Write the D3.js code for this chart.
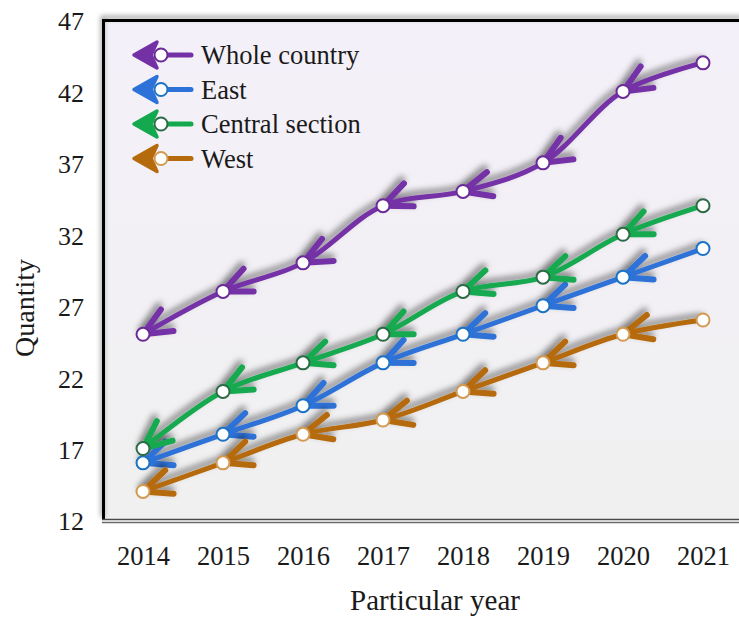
<!DOCTYPE html>
<html>
<head>
<meta charset="utf-8">
<script src="https://cdn.jsdelivr.net/npm/d3@7/dist/d3.min.js"></script>
<style>
  html, body { margin: 0; padding: 0; background: #ffffff; }
  svg { display: block; }
  text { font-family: "Liberation Serif", "Times New Roman", serif; fill: #1a1a1a; }
</style>
</head>
<body>
<svg id="chart" width="739" height="617"></svg>
<script>
// Regional quantities by year
const years = [2014, 2015, 2016, 2017, 2018, 2019, 2020, 2021];
const wholeCountry = [25, 28, 30, 34, 35, 37, 42, 44];
const east = [16, 18, 20, 23, 25, 27, 29, 31];
const centralSection = [17, 21, 23, 25, 28, 29, 32, 34];
const west = [14, 16, 18, 19, 21, 23, 25, 26];
const seriesNames = ["Whole country", "East", "Central section", "West"];
const yTicks = [12, 17, 22, 27, 32, 37, 42, 47];

const series = [
  { name: seriesNames[0], values: wholeCountry, color: "#7431a6", ring: "#6a2b99" },
  { name: seriesNames[1], values: east, color: "#2d72d8", ring: "#1c73c4" },
  { name: seriesNames[2], values: centralSection, color: "#14a94f", ring: "#2b6b45" },
  { name: seriesNames[3], values: west, color: "#b56a0c", ring: "#d29a52" }
];

const svg = d3.select("#chart");
const plot = { left: 102, top: 19, right: 760, bottom: 520 };

const x = d3.scalePoint().domain(years).range([143, 703]);
const y = d3.scaleLinear().domain([12, 47]).range([plot.bottom, 20]);

const defs = svg.append("defs");

const bg = defs.append("linearGradient").attr("id", "bg")
  .attr("x1", 0).attr("y1", 0).attr("x2", 0).attr("y2", 1);
bg.append("stop").attr("offset", "0%").attr("stop-color", "#f4f0f9");
bg.append("stop").attr("offset", "100%").attr("stop-color", "#f0f0f0");

const shadow = defs.append("filter").attr("id", "shadow")
  .attr("x", "-20%").attr("y", "-20%").attr("width", "140%").attr("height", "140%");
shadow.append("feDropShadow").attr("dx", -2).attr("dy", -4)
  .attr("stdDeviation", 3.2).attr("flood-color", "#000").attr("flood-opacity", 0.5);

const frameShadow = defs.append("filter").attr("id", "frameShadow")
  .attr("x", "-5%").attr("y", "-5%").attr("width", "110%").attr("height", "110%");
frameShadow.append("feDropShadow").attr("dx", -1).attr("dy", -3)
  .attr("stdDeviation", 2.5).attr("flood-color", "#000").attr("flood-opacity", 0.45);

// Arrowheads placed at each vertex, pointing along the path direction
series.forEach((s, i) => {
  defs.append("marker").attr("id", "arrow" + i)
    .attr("markerUnits", "userSpaceOnUse")
    .attr("markerWidth", 1).attr("markerHeight", 1)
    .attr("refX", 0).attr("refY", 0)
    .attr("orient", "auto")
    .style("overflow", "visible")
    .append("path")
    .attr("d", "M-28,-12.5 L0,0 L-28,12.5")
    .attr("fill", "none")
    .attr("stroke", s.color)
    .attr("stroke-width", 6)
    .attr("stroke-linecap", "round")
    .attr("stroke-linejoin", "round");
});

// Plot background and frame
svg.append("rect")
  .attr("x", plot.left).attr("y", plot.top)
  .attr("width", plot.right - plot.left).attr("height", plot.bottom - plot.top)
  .attr("fill", "url(#bg)");

svg.append("path")
  .attr("d", `M${plot.right},${plot.top + 1.5} H${plot.left + 1.5} V${plot.bottom}`)
  .attr("fill", "none").attr("stroke", "#000").attr("stroke-width", 3)
  .attr("filter", "url(#frameShadow)");
svg.append("line")
  .attr("x1", plot.left).attr("x2", plot.right)
  .attr("y1", plot.bottom - 0.5).attr("y2", plot.bottom - 0.5)
  .attr("stroke", "#4a4a4a").attr("stroke-width", 1.5);
svg.append("line")
  .attr("x1", plot.left).attr("x2", plot.right)
  .attr("y1", plot.bottom + 2.5).attr("y2", plot.bottom + 2.5)
  .attr("stroke", "#6a6a6a").attr("stroke-width", 1.5);

// Axes (labels only, no tick marks or domain lines)
const yAxis = svg.append("g")
  .attr("transform", `translate(84,0)`)
  .call(d3.axisLeft(y).tickValues(yTicks).tickSize(0).tickPadding(0).tickFormat(d3.format("d")));
yAxis.select(".domain").remove();
yAxis.selectAll("text")
  .attr("dy", "0.38em")
  .style("font-family", "'Liberation Serif', serif")
  .style("font-size", "26px").attr("fill", "#1a1a1a");

const xAxis = svg.append("g")
  .attr("transform", `translate(0,546)`)
  .call(d3.axisBottom(x).tickSize(0).tickPadding(0).tickFormat(d3.format("d")));
xAxis.select(".domain").remove();
xAxis.selectAll("text")
  .style("font-family", "'Liberation Serif', serif")
  .style("font-size", "26.5px").attr("fill", "#1a1a1a");

svg.append("text")
  .attr("transform", "translate(34,308) rotate(-90)")
  .attr("text-anchor", "middle")
  .style("font-size", "28px")
  .text("Quantity");

svg.append("text")
  .attr("x", 435).attr("y", 610)
  .attr("text-anchor", "middle")
  .style("font-size", "29px")
  .text("Particular year");

// Lines drawn from the latest year back to 2014 so arrows point to earlier years
const line = d3.line()
  .x(d => x(d.year))
  .y(d => y(d.value))
  .curve(d3.curveCatmullRom.alpha(0.5));

const lines = svg.append("g");
series.forEach((s, i) => {
  const pts = years.map((yr, j) => ({ year: yr, value: s.values[j] })).reverse();
  lines.append("path")
    .attr("d", line(pts))
    .attr("fill", "none")
    .attr("stroke", s.color)
    .attr("stroke-width", 5)
    .attr("stroke-linecap", "round")
    .attr("stroke-linejoin", "round")
    .attr("marker-mid", `url(#arrow${i})`)
    .attr("marker-end", `url(#arrow${i})`)
    .attr("filter", "url(#shadow)");
});

const dots = svg.append("g");
series.forEach(s => {
  dots.selectAll(null)
    .data(years.map((yr, j) => ({ year: yr, value: s.values[j] })))
    .join("circle")
    .attr("cx", d => x(d.year))
    .attr("cy", d => y(d.value))
    .attr("r", 6.5)
    .attr("fill", "#ffffff")
    .attr("stroke", s.ring)
    .attr("stroke-width", 2);
});

// Legend
const legend = svg.append("g");
series.forEach((s, i) => {
  const ly = 55 + i * 34.5;
  const g = legend.append("g").attr("transform", `translate(0,${ly})`);
  g.append("line")
    .attr("x1", 160).attr("x2", 191).attr("y1", 0).attr("y2", 0)
    .attr("stroke", s.color).attr("stroke-width", 5).attr("stroke-linecap", "round");
  g.append("path")
    .attr("d", "M134,0 L157,-13 L151,0 L157,13 Z")
    .attr("fill", s.color).attr("stroke", s.color)
    .attr("stroke-width", 3.5).attr("stroke-linejoin", "round");
  g.append("circle")
    .attr("cx", 161).attr("cy", 0).attr("r", 6.5)
    .attr("fill", "#ffffff").attr("stroke", s.ring).attr("stroke-width", 2);
  g.append("text")
    .attr("x", 201).attr("y", 0).attr("dy", "0.35em")
    .style("font-size", "26.5px")
    .text(s.name);
});
</script>
</body>
</html>
